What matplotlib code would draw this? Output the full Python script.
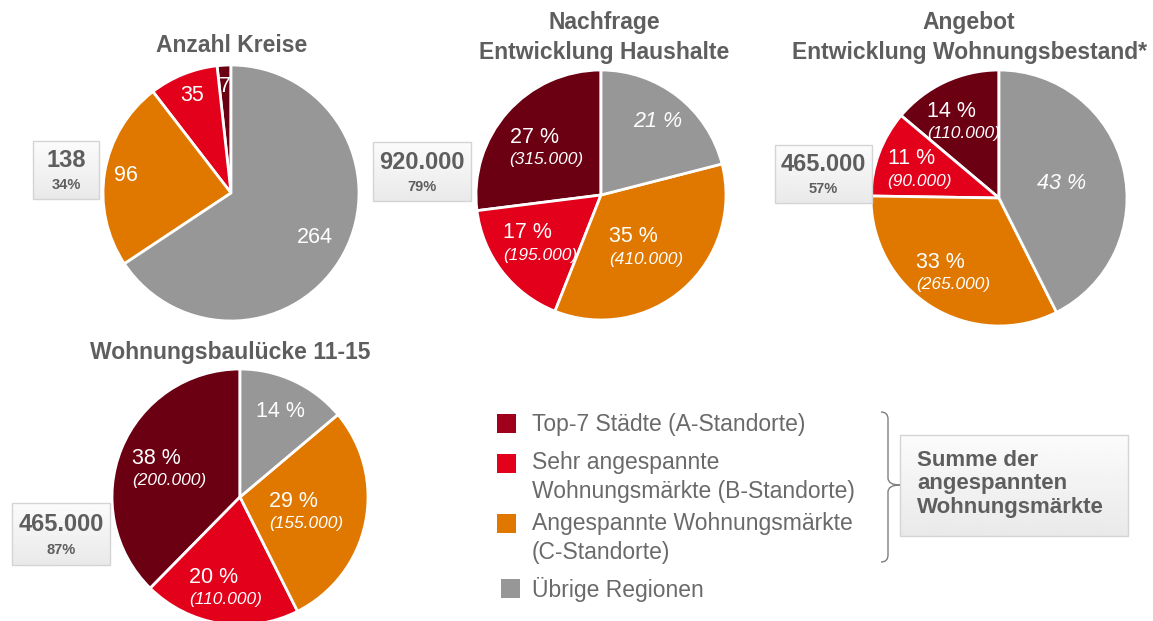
import numpy as np
import matplotlib.pyplot as plt
from matplotlib.patches import Rectangle, PathPatch
from matplotlib.path import Path
from matplotlib.offsetbox import TextArea, VPacker, AnnotationBbox

plt.rcParams['font.family'] = ['Liberation Sans', 'DejaVu Sans']

W, H = 1153, 621

# data
categories = ["Top-7 Städte (A-Standorte)",
              "Sehr angespannte\nWohnungsmärkte (B-Standorte)",
              "Angespannte Wohnungsmärkte\n(C-Standorte)",
              "Übrige Regionen"]
kreise = [7, 35, 96, 264]
haushalte_pct = [27, 17, 35, 21]
haushalte_abs = ["315.000", "195.000", "410.000", None]
bestand_pct = [14, 11, 33, 43]
bestand_abs = ["110.000", "90.000", "265.000", None]
luecke_pct = [38, 20, 29, 14]
luecke_abs = ["200.000", "110.000", "155.000", None]
box_totals = ["138", "920.000", "465.000", "465.000"]
box_shares = ["34%", "79%", "57%", "87%"]
summary_text = "Summe der\nangespannten\nWohnungsmärkte"

pie_colors = ["#6B0013", "#E2001A", "#E07800", "#979797"]
legend_colors = ["#A0001C", "#E2001A", "#E07800", "#979797"]
TXT = "#5E5E5E"


def Y(y):
    return H - y


fig = plt.figure(figsize=(W / 100, H / 100), dpi=100)
ax = fig.add_axes([0, 0, 1, 1])


def draw_pie(values, cx, cy, r, fracs, abs_vals=None, pct=True, gray_italic=False):
    wedges, _ = ax.pie(values, colors=pie_colors, startangle=90, counterclock=True,
                       center=(cx, Y(cy)), radius=r, frame=True,
                       wedgeprops=dict(edgecolor="white", linewidth=2))
    for i, (w, v, f) in enumerate(zip(wedges, values, fracs)):
        ang = np.deg2rad((w.theta1 + w.theta2) / 2)
        x = cx + f * r * np.cos(ang)
        y = Y(cy) + f * r * np.sin(ang)
        label = f"{v} %" if pct else str(v)
        if abs_vals is None or abs_vals[i] is None:
            style = "italic" if (gray_italic and i == 3) else "normal"
            ax.text(x, y, label, color="white", fontsize=15.5, style=style,
                    ha="center", va="center")
        else:
            t1 = TextArea(label, textprops=dict(color="white", fontsize=15.5))
            t2 = TextArea(f"({abs_vals[i]})",
                          textprops=dict(color="white", fontsize=12.5, style="italic"))
            pack = VPacker(children=[t1, t2], align="left", pad=0, sep=3)
            ab = AnnotationBbox(pack, (x, y), frameon=False, box_alignment=(0.5, 0.5), pad=0)
            ax.add_artist(ab)


def grad_box(x0, y0, x1, y1):
    grad = np.linspace(0.985, 0.915, 50).reshape(-1, 1)
    ax.imshow(grad, cmap="gray", vmin=0, vmax=1, extent=(x0, x1, Y(y1), Y(y0)),
              aspect="auto", zorder=1)
    ax.add_patch(Rectangle((x0, Y(y1)), x1 - x0, y1 - y0, fill=False,
                           edgecolor="#D4D4D4", linewidth=1, zorder=2))


# pies
draw_pie(kreise, 231, 193, 128, [0.83, 0.82, 0.83, 0.74], pct=False)
draw_pie(haushalte_pct, 601, 195, 125, [0.58, 0.62, 0.55, 0.74], haushalte_abs, gray_italic=True)
draw_pie(bestand_pct, 999, 198, 128, [0.66, 0.66, 0.68, 0.5], bestand_abs, gray_italic=True)
draw_pie(luecke_pct, 240, 497, 128, [0.6, 0.71, 0.53, 0.74], luecke_abs)

# titles
title_kw = dict(fontsize=16.5, fontweight="bold", color=TXT, ha="center", va="center")
ax.text(232, Y(45), "Anzahl Kreise", **title_kw)
ax.text(604, Y(23), "Nachfrage", **title_kw)
ax.text(604, Y(52), "Entwicklung Haushalte", **title_kw)
ax.text(969, Y(23), "Angebot", **title_kw)
ax.text(969, Y(52), "Entwicklung Wohnungsbestand*", **title_kw)
ax.text(230, Y(352), "Wohnungsbaulücke 11-15", **title_kw)

# total boxes
boxes = [(33, 141, 99, 199), (373, 142, 471, 201), (775, 145, 872, 203), (12, 503, 110, 565)]
for (x0, y0, x1, y1), tot, share in zip(boxes, box_totals, box_shares):
    grad_box(x0, y0, x1, y1)
    xc = (x0 + x1) / 2
    h = y1 - y0
    ax.text(xc, Y(y0 + 0.34 * h), tot, fontsize=17, fontweight="bold", color=TXT,
            ha="center", va="center", zorder=3)
    ax.text(xc, Y(y0 + 0.76 * h), share, fontsize=10.5, fontweight="bold", color=TXT,
            ha="center", va="center", zorder=3)

# legend
leg_y = [424, 477, 538, 589]
sq_y = [423, 463, 523, 588]
for i, (cat, col) in enumerate(zip(categories, legend_colors)):
    sx = 501 if i == 3 else 497
    ax.add_patch(Rectangle((sx, Y(sq_y[i] + 9.5)), 19, 19, facecolor=col, edgecolor="none"))
    ax.text(532, Y(leg_y[i]), cat, fontsize=16.5, color="#6A6A6A", ha="left", va="center",
            linespacing=1.3)

# brace
verts = [(881, 412), (888, 412), (888, 419), (888, 478), (888, 485), (900, 485),
         (888, 485), (888, 492), (888, 555), (888, 562), (881, 562)]
codes = [Path.MOVETO, Path.CURVE3, Path.CURVE3, Path.LINETO, Path.CURVE3, Path.CURVE3,
         Path.CURVE3, Path.CURVE3, Path.LINETO, Path.CURVE3, Path.CURVE3]
ax.add_patch(PathPatch(Path([(x, Y(y)) for x, y in verts], codes), fill=False,
                       edgecolor="#7F7F7F", linewidth=1))

# summary box
grad_box(900, 435, 1128, 536)
ax.text(917, Y(484), summary_text, fontsize=16, fontweight="bold", color=TXT,
        ha="left", va="center", linespacing=1.15, zorder=3)

ax.set_xlim(0, W)
ax.set_ylim(0, H)
ax.set_aspect("auto")
ax.axis("off")

fig.savefig("out.png", dpi=100)
